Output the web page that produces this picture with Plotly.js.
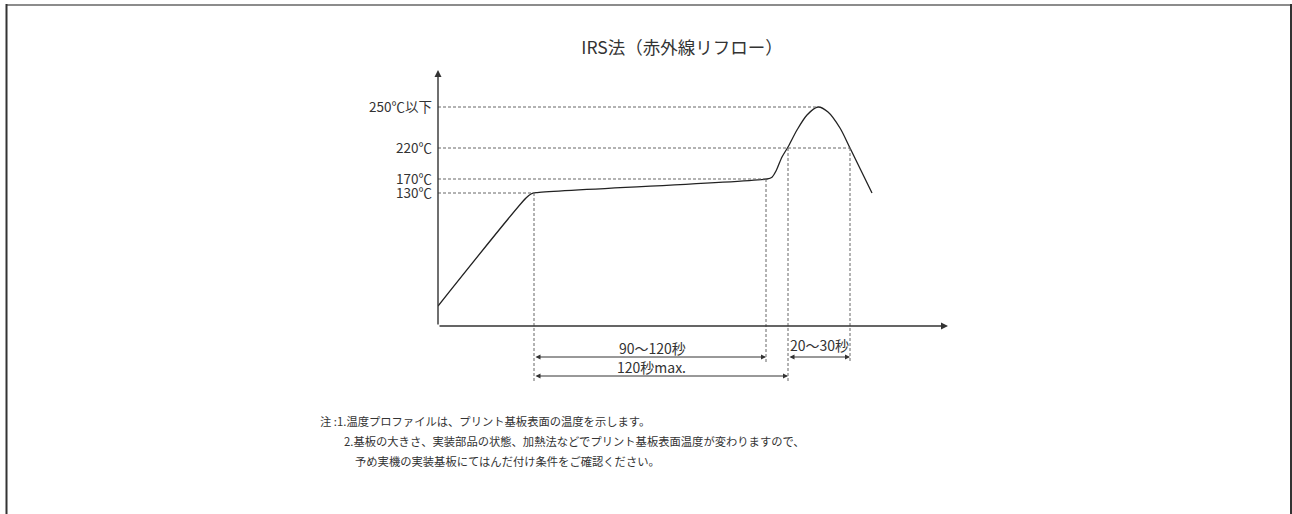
<!DOCTYPE html>
<html>
<head>
<meta charset="utf-8">
<script src="https://cdn.plot.ly/plotly-3.0.1.min.js"></script>
<style>html,body{margin:0;padding:0;background:#fff;}#chart{width:1292px;height:514px;}</style>
</head>
<body>
<div id="chart"></div>
<script>
// Schematic reflow profile (time units, schematic height units)
const curveTime = [0, 88, 93, 98, 329, 334, 338, 344, 350, 359, 369, 380, 390, 402, 412, 434];
const curveTemp = [20, 128, 132, 133.3, 147, 148.8, 155, 169, 179, 196, 211, 219, 214, 198, 178, 133];

// Temperature levels (schematic height) and their labels
const levelLabels = ['130℃', '170℃', '220℃', '250℃以下'];
const levelValues = [133, 147, 178, 219];
const levelReachTime = [96, 328, 412, 380];

// Time markers
const markerTimes = [96, 328, 350, 412];
const markerTops = [133, 147, 178, 178];
const markerBottoms = [-56, -36, -56, -36];

// Phase durations
const phaseLabels = ['90～120秒', '120秒max.', '20～30秒'];
const phaseStart = [96, 96, 350];
const phaseEnd = [328, 350, 412];
const phaseRow = [-31, -50, -31];
const phaseLabelX = [214, 213, 381];
const phaseLabelY = [-22, -41, -19];

const titleText = 'IRS法（赤外線リフロー）';
const notes = [
  '注 :1.温度プロファイルは、プリント基板表面の温度を示します。',
  '2.基板の大きさ、実装部品の状態、加熱法などでプリント基板表面温度が変わりますので、',
  '予め実機の実装基板にてはんだ付け条件をご確認ください。'
];

const FONT = '"Noto Sans CJK JP", "Noto Sans", sans-serif';
const INK = '#333333';
const DOT = '#666666';

const W = 1292, H = 514;
const L = 438, R = 334, T = 60, B = 124;
const PW = W - L - R, PH = H - T - B;
const px2paperX = p => (p - L) / PW;
const px2paperY = p => (H - B - p) / PH;

const shapes = [];
levelValues.forEach((v, i) => {
  shapes.push({type: 'line', xref: 'x', yref: 'y', x0: 0, x1: levelReachTime[i], y0: v, y1: v,
    line: {color: DOT, width: 1, dash: '3px,2px'}});
});
markerTimes.forEach((t, i) => {
  shapes.push({type: 'line', xref: 'x', yref: 'y', x0: t, x1: t, y0: markerTops[i], y1: markerBottoms[i],
    line: {color: DOT, width: 1, dash: '3px,2px'}});
});
// frame
shapes.push({type: 'line', xref: 'paper', yref: 'paper', x0: px2paperX(6), x1: px2paperX(1292), y0: px2paperY(5), y1: px2paperY(5), line: {color: '#8c8c8c', width: 2}});
shapes.push({type: 'line', xref: 'paper', yref: 'paper', x0: px2paperX(6.5), x1: px2paperX(6.5), y0: px2paperY(4), y1: px2paperY(530), line: {color: INK, width: 2}});
shapes.push({type: 'line', xref: 'paper', yref: 'paper', x0: px2paperX(1291), x1: px2paperX(1291), y0: px2paperY(4), y1: px2paperY(530), line: {color: INK, width: 2}});

const annotations = [];
// axes with arrowheads
annotations.push({xref: 'x', yref: 'y', axref: 'x', ayref: 'y', x: 510, y: 0, ax: 0, ay: 0, text: '',
  showarrow: true, arrowhead: 2, arrowsize: 1, arrowwidth: 1.4, arrowcolor: INK, standoff: 0});
annotations.push({xref: 'x', yref: 'y', axref: 'x', ayref: 'y', x: 0, y: 256, ax: 0, ay: 0, text: '',
  showarrow: true, arrowhead: 2, arrowsize: 1, arrowwidth: 1.4, arrowcolor: INK, standoff: 0});
// phase arrows & labels
phaseLabels.forEach((lab, i) => {
  annotations.push({xref: 'x', yref: 'y', axref: 'x', ayref: 'y', x: phaseEnd[i], y: phaseRow[i], ax: phaseStart[i], ay: phaseRow[i], text: '',
    showarrow: true, arrowhead: 2, startarrowhead: 2, arrowside: 'end+start', arrowsize: 1, arrowwidth: 1, arrowcolor: INK, standoff: 0, startstandoff: 0});
  annotations.push({xref: 'x', yref: 'y', x: phaseLabelX[i], y: phaseLabelY[i], text: lab, showarrow: false,
    xanchor: 'center', yanchor: 'middle', font: {family: FONT, size: 14, color: INK}});
});
// notes
const noteX = [318, 342, 353];
const noteY = [421, 441, 461];
notes.forEach((n, i) => {
  annotations.push({xref: 'paper', yref: 'paper', x: px2paperX(noteX[i]), y: px2paperY(noteY[i]), text: n, showarrow: false,
    xanchor: 'left', yanchor: 'middle', font: {family: FONT, size: 11.3, color: INK}});
});

const trace = {
  x: curveTime, y: curveTemp, type: 'scatter', mode: 'lines',
  line: {color: '#222', width: 1.3, shape: 'spline', smoothing: 0.8},
  hoverinfo: 'skip', showlegend: false
};

const layout = {
  width: W, height: H,
  margin: {l: L, r: R, t: T, b: B, pad: 0},
  paper_bgcolor: '#fff', plot_bgcolor: 'rgba(0,0,0,0)',
  font: {family: FONT, color: INK},
  title: {text: titleText, x: px2paperX(682), xref: 'paper', xanchor: 'center', y: 1 - 48 / H, yref: 'container', yanchor: 'middle',
    font: {family: FONT, size: 17.5, color: INK}},
  xaxis: {range: [0, PW], visible: false, fixedrange: true},
  yaxis: {range: [-(H - B - 326), 326 - T], showgrid: false, zeroline: false, showline: false, ticks: '',
    tickmode: 'array', tickvals: levelValues, ticktext: levelLabels, ticklabelstandoff: 5,
    tickfont: {family: FONT, size: 13.5, color: INK}, fixedrange: true},
  shapes: shapes,
  annotations: annotations,
  showlegend: false
};

Plotly.newPlot('chart', [trace], layout, {displayModeBar: false, staticPlot: true});
</script>
</body>
</html>
